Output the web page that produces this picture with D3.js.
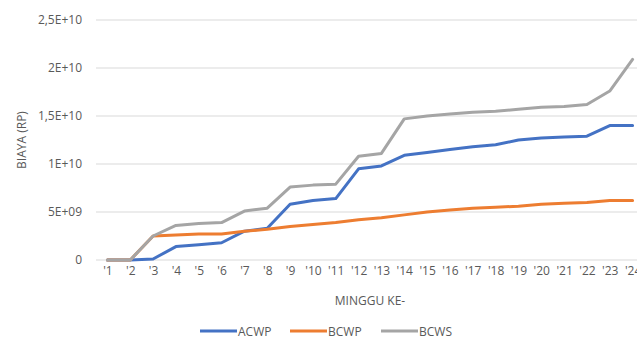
<!DOCTYPE html>
<html>
<head>
<meta charset="utf-8">
<script src="https://cdn.jsdelivr.net/npm/d3@7"></script>
<style>
  html, body { margin: 0; padding: 0; background: #fff; }
  svg { display: block; }
  text { font-family: "Open Sans", "Noto Sans", sans-serif; fill: #595959; }
</style>
</head>
<body>
<svg id="chart" width="637" height="354"></svg>
<script>
// Weekly cumulative cost (Rp)
const weeks = ["'1","'2","'3","'4","'5","'6","'7","'8","'9","'10","'11","'12",
               "'13","'14","'15","'16","'17","'18","'19","'20","'21","'22","'23","'24"];
const acwp = [0, 0, 0.1e9, 1.4e9, 1.6e9, 1.8e9, 3.0e9, 3.3e9, 5.8e9, 6.2e9, 6.4e9, 9.5e9,
              9.8e9, 10.9e9, 11.2e9, 11.5e9, 11.8e9, 12.0e9, 12.5e9, 12.7e9, 12.8e9, 12.9e9, 14.0e9, 14.0e9];
const bcwp = [0, 0, 2.5e9, 2.6e9, 2.7e9, 2.7e9, 3.0e9, 3.2e9, 3.5e9, 3.7e9, 3.9e9, 4.2e9,
              4.4e9, 4.7e9, 5.0e9, 5.2e9, 5.4e9, 5.5e9, 5.6e9, 5.8e9, 5.9e9, 6.0e9, 6.2e9, 6.2e9];
const bcws = [0, 0, 2.5e9, 3.6e9, 3.8e9, 3.9e9, 5.1e9, 5.4e9, 7.6e9, 7.8e9, 7.9e9, 10.8e9,
              11.1e9, 14.7e9, 15.0e9, 15.2e9, 15.4e9, 15.5e9, 15.7e9, 15.9e9, 16.0e9, 16.2e9, 17.6e9, 20.9e9];
const yTicks = [0, 5e9, 1e10, 1.5e10, 2e10, 2.5e10];
const yTickLabels = ["0", "5E+09", "1E+10", "1,5E+10", "2E+10", "2,5E+10"];
const seriesNames = ["ACWP", "BCWP", "BCWS"];
const seriesColors = ["#4472C4", "#ED7D31", "#A5A5A5"];

const series = [acwp, bcwp, bcws].map((values, i) => ({
  name: seriesNames[i], color: seriesColors[i], values
}));

const svg = d3.select("#chart");
const plotLeft = 96, plotRight = 644, plotTop = 20, plotBottom = 260;
const fontSize = "12px";

const x = d3.scalePoint().domain(weeks).range([plotLeft, plotRight]).padding(0.5);
const y = d3.scaleLinear().domain([0, 2.5e10]).range([plotBottom, plotTop]);

// Horizontal gridlines
svg.append("g").selectAll("line").data(yTicks).join("line")
  .attr("x1", plotLeft).attr("x2", plotRight)
  .attr("y1", d => y(d)).attr("y2", d => y(d))
  .attr("stroke", "#d9d9d9").attr("stroke-width", 1);

// Y axis labels
const yAxis = d3.axisLeft(y).tickValues(yTicks)
  .tickFormat((d, i) => yTickLabels[i]).tickSize(0).tickPadding(14);
svg.append("g").attr("transform", `translate(${plotLeft},0)`).call(yAxis)
  .call(g => g.select(".domain").remove())
  .call(g => g.selectAll("text").style("font-size", fontSize).attr("fill", "#595959")
    .style("font-family", "'Open Sans', sans-serif"));

// X axis labels
const xAxis = d3.axisBottom(x).tickSize(0).tickPadding(6);
svg.append("g").attr("transform", `translate(0,${plotBottom})`).call(xAxis)
  .call(g => g.select(".domain").remove())
  .call(g => g.selectAll("text").style("font-size", fontSize).attr("fill", "#595959")
    .style("font-family", "'Open Sans', sans-serif"));

// Axis titles
svg.append("text").attr("x", (plotLeft + plotRight) / 2).attr("y", 305).attr("text-anchor", "middle")
  .style("font-size", fontSize).text("MINGGU KE-");
svg.append("text").attr("transform", "translate(26,140) rotate(-90)")
  .attr("text-anchor", "middle").style("font-size", fontSize).text("BIAYA (RP)");

// Series lines
const line = d3.line().x((d, i) => x(weeks[i])).y(d => y(d));
svg.append("g").selectAll("path").data(series).join("path")
  .attr("d", d => line(d.values))
  .attr("fill", "none").attr("stroke", d => d.color)
  .attr("stroke-width", 3).attr("stroke-linejoin", "round").attr("stroke-linecap", "round");

// Legend
const legendX = [200, 290, 381];
const lg = svg.append("g").selectAll("g").data(series).join("g")
  .attr("transform", (d, i) => `translate(${legendX[i]},331)`);
lg.append("line").attr("x1", 0).attr("x2", 37).attr("y1", 0).attr("y2", 0)
  .attr("stroke", d => d.color).attr("stroke-width", 3);
lg.append("text").attr("x", 38).attr("y", 4.5).style("font-size", fontSize)
  .text(d => d.name);
</script>
</body>
</html>
